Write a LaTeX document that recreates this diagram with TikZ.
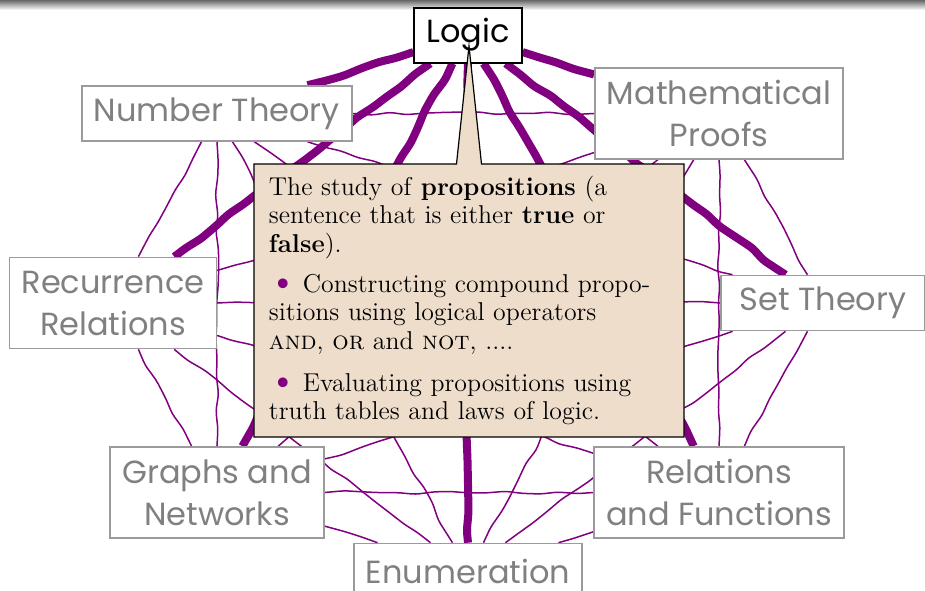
\documentclass[tikz,border=0pt]{standalone}
\usepackage{fontspec}
\newfontfamily\handfont{Poppins}
\usetikzlibrary{shapes.callouts,decorations.pathmorphing}
\definecolor{topicpurple}{RGB}{128,0,128}
\definecolor{topicgray}{RGB}{128,128,128}
\definecolor{boxgray}{RGB}{155,155,155}
\definecolor{notebeige}{RGB}{238,221,203}
\pgfdeclarelayer{background}
\pgfsetlayers{background,main}
\newcommand{\notebullet}{\makebox[17pt][l]{\hspace{0.5pt}\textcolor{topicpurple}{\scalebox{1.4}{\textbullet}}}}
\tikzset{
  topic/.style={draw=boxgray, line width=0.8pt, fill=white, text=topicgray,
    font=\handfont\fontsize{16}{21}\selectfont, align=center,
    inner xsep=6pt, inner ysep=2pt, minimum height=27.5pt},
  twoline/.style={minimum height=45.5pt},
  wideline/.style={minimum width=102pt},
  link/.style={topicpurple, decorate, line join=round, rounded corners=2pt,
    decoration={random steps, segment length=9pt, amplitude=0.9pt}},
  strong/.style={link, line width=4pt},
  weak/.style={link, line width=0.75pt}
}
\begin{document}
\begin{tikzpicture}[x=0.5pt,y=0.5pt]
\pgfmathsetseed{7}
\useasboundingbox (-468,-287) rectangle (457,303);
\shade[top color=black!60, bottom color=white] (-468,303) rectangle (457,293);

% topics round the ellipse
\node[topic, draw=black, text=black, line width=1pt] (logic) at (90:355 and 268) {Logic};
\foreach \name/\ang/\txt/\kind in {proofs/45/{Mathematical\\Proofs}/twoline,
  settheory/0/{Set Theory}/wideline, relfun/-45/{Relations\\and Functions}/twoline,
  enum/-90/Enumeration/topic, graphs/-135/{Graphs and\\Networks}/twoline,
  recur/180/{Recurrence\\Relations}/twoline, numtheory/135/{Number Theory}/topic}
  \node[topic, \kind] (\name) at (\ang:355 and 268) {\txt};

\begin{pgfonlayer}{background}
\foreach \t in {numtheory,recur,graphs,enum,relfun,settheory,proofs}
  \draw[strong] (logic) -- (\t);
\foreach \a [count=\i] in {numtheory,recur,graphs,enum,relfun,settheory,proofs}
  \foreach \b [count=\j] in {numtheory,recur,graphs,enum,relfun,settheory,proofs}
  {
    \ifnum\j>\i \draw[weak] (\a) -- (\b); \fi
  }
\end{pgfonlayer}

% the note on logic
\node[rectangle callout, draw=black, line width=0.6pt, fill=notebeige,
  callout absolute pointer={(1,257)}, callout pointer width=12.5pt,
  minimum width=215pt, minimum height=136.5pt, text width=200pt, inner sep=3pt,
  font=\fontsize{12.9}{14.25}\selectfont] (note) at (1,2.5)
{\raggedright\setlength\parindent{0pt}%
The study of \textbf{propositions} (a\\
sentence that is either \textbf{true} or\\
\textbf{false}).\par\vspace{5.75pt}
{\hangindent=17pt\hangafter=1\noindent\notebullet
Constructing compound propo-\\sitions using logical operators\\
\textsc{and}, \textsc{or} and \textsc{not}, ....\par}\vspace{6.75pt}
{\hangindent=17pt\hangafter=1\noindent\notebullet
Evaluating propositions using\\truth tables and laws of logic.\par}};
\end{tikzpicture}
\end{document}
